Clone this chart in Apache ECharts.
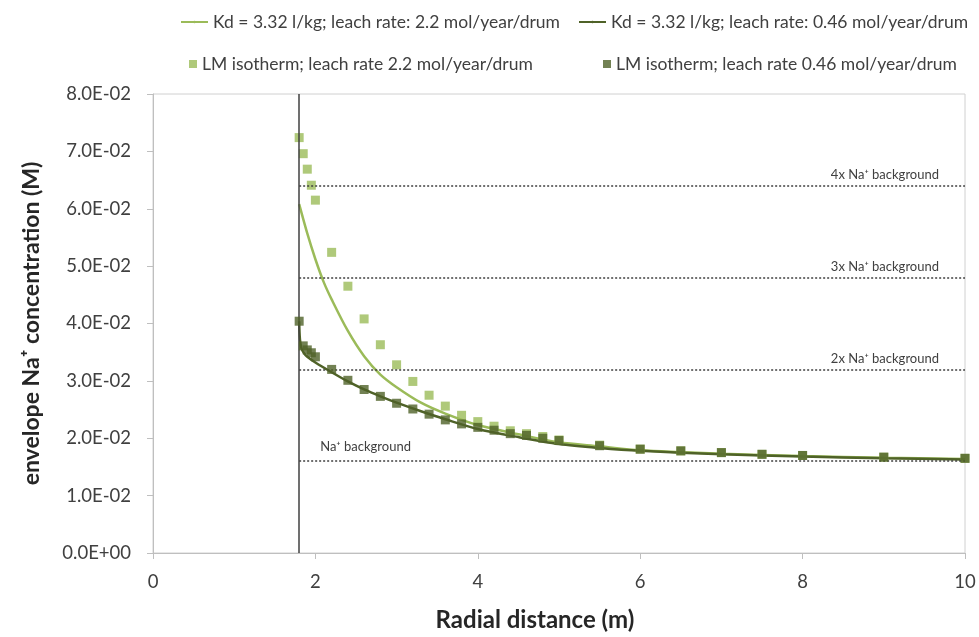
<!DOCTYPE html>
<html>
<head>
<meta charset="utf-8">
<script src="https://cdn.jsdelivr.net/npm/echarts@6/dist/echarts.min.js"></script>
<style>
html,body{margin:0;padding:0;background:#fff;}
#chart{width:979px;height:637px;}
</style>
</head>
<body>
<div id="chart"></div>
<script>
// ---- data ----
const seriesNames = [
  'Kd = 3.32 l/kg; leach rate: 2.2 mol/year/drum',
  'Kd = 3.32 l/kg; leach rate: 0.46 mol/year/drum',
  'LM isotherm; leach rate 2.2 mol/year/drum',
  'LM isotherm; leach rate 0.46 mol/year/drum'
];
const kdHighX = [1.8,1.9,2.0,2.1,2.2,2.4,2.6,2.8,3.0,3.3,3.6,4.0,4.5,5,5.5,6,7,8,9,10];
const kdHighY = [0.0608,0.0557,0.0512,0.0473,0.0442,0.0387,0.0343,0.0311,0.0289,0.0262,0.0243,0.0223,0.0207,0.0193,0.0186,0.0179,0.0173,0.0169,0.0166,0.0164];
const kdLowX = [1.8,1.81,1.83,1.86,1.9,2.0,2.2,2.4,2.6,2.8,3.0,3.3,3.6,4.0,4.5,5,5.5,6,7,8,9,10];
const kdLowY = [0.0404,0.0372,0.0356,0.0348,0.0342,0.0332,0.0315,0.0299,0.0285,0.0273,0.0262,0.0247,0.0233,0.0216,0.0202,0.0190,0.0183,0.0178,0.0172,0.0168,0.0165,0.0163];
const lmX = [1.8,1.85,1.9,1.95,2.0,2.2,2.4,2.6,2.8,3.0,3.2,3.4,3.6,3.8,4.0,4.2,4.4,4.6,4.8,5.0,5.5,6,6.5,7,7.5,8,9,10];
const lmHighY = [0.0724,0.0696,0.0669,0.0641,0.0615,0.0524,0.0465,0.0408,0.0363,0.0328,0.0299,0.0275,0.0256,0.0240,0.0229,0.0221,0.0213,0.0208,0.0203,0.0197,0.0188,0.0181,0.0178,0.0175,0.0172,0.0170,0.0167,0.0165];
const lmLowY = [0.0404,0.0361,0.0354,0.0349,0.0342,0.0320,0.0301,0.0285,0.0273,0.0261,0.0251,0.0242,0.0232,0.0225,0.0219,0.0214,0.0208,0.0205,0.0200,0.0196,0.0187,0.0181,0.0178,0.0175,0.0172,0.0170,0.0167,0.0165];
const drumRadius = 1.8;
const background = 0.016;
const refLevels = [
  {y: 0.064, label: '4x Na\u207A background'},
  {y: 0.048, label: '3x Na\u207A background'},
  {y: 0.032, label: '2x Na\u207A background'}
];
const bgLabel = 'Na\u207A background';
const xMax = 10;

const zip = (xs, ys) => xs.map((x, i) => [x, ys[i]]);
const LIGHT = '#9bbb59', DARK = '#4f6228';
const FONT = 'Lato';

function fmtExp(v) {
  if (v === 0) return '0.0E+00';
  const e = Math.floor(Math.log10(Math.abs(v)) + 1e-9);
  const m = v / Math.pow(10, e);
  const sign = e < 0 ? '-' : '+';
  const ea = Math.abs(e);
  return m.toFixed(1) + 'E' + sign + (ea < 10 ? '0' + ea : ea);
}

const refLineData = refLevels.map(r => [
  {coord: [drumRadius, r.y], label: {show: true, formatter: r.label, position: 'insideEndTop', distance: 4, padding: [0, 22, 0, 0], fontSize: 13, color: '#404040', fontFamily: FONT}},
  {coord: [xMax, r.y]}
]);
refLineData.push([
  {coord: [drumRadius, background], label: {show: true, formatter: bgLabel, position: 'insideStartTop', distance: 8, padding: [0, 0, 0, 13], fontSize: 13, color: '#404040', fontFamily: FONT}},
  {coord: [xMax, background]}
]);

const legendCommon = {
  orient: 'horizontal',
  padding: 0,
  textStyle: {fontFamily: FONT, fontSize: 17.5, color: '#404040'},
  selectedMode: false
};

const option = {
  animation: false,
  backgroundColor: '#fff',
  grid: {left: 153, right: 14, top: 94, bottom: 80, show: true, borderColor: '#d0d0d0', borderWidth: 1, containLabel: false},
  legend: [
    Object.assign({}, legendCommon, {data: [seriesNames[0]], left: 180, top: 13, itemWidth: 27, itemHeight: 3}),
    Object.assign({}, legendCommon, {data: [seriesNames[1]], left: 578, top: 13, itemWidth: 27, itemHeight: 3}),
    Object.assign({}, legendCommon, {data: [{name: seriesNames[2], icon: 'rect'}], left: 189, top: 55, itemWidth: 8, itemHeight: 8}),
    Object.assign({}, legendCommon, {data: [{name: seriesNames[3], icon: 'rect'}], left: 603, top: 55, itemWidth: 8, itemHeight: 8})
  ],
  xAxis: {
    type: 'value', min: 0, max: 10, interval: 2,
    name: 'Radial distance (m)', nameLocation: 'middle', nameGap: 55,
    nameTextStyle: {fontFamily: FONT, fontSize: 24, fontWeight: 'bold', color: '#262626', padding: [0, 48, 0, 0]},
    axisLine: {show: true, onZero: false, lineStyle: {color: '#bfbfbf', width: 1}},
    axisTick: {show: true, length: 6, lineStyle: {color: '#bfbfbf'}},
    axisLabel: {fontFamily: FONT, fontSize: 18.5, color: '#404040', margin: 20},
    splitLine: {show: false}
  },
  yAxis: {
    type: 'value', min: 0, max: 0.08, interval: 0.01,
    name: 'envelope Na\u207A concentration (M)', nameLocation: 'middle', nameGap: 110, nameRotate: 90,
    nameTextStyle: {fontFamily: FONT, fontSize: 23, fontWeight: 'bold', color: '#262626'},
    axisLine: {show: true, lineStyle: {color: '#bfbfbf', width: 1}},
    axisTick: {show: true, length: 6, lineStyle: {color: '#bfbfbf'}},
    axisLabel: {fontFamily: FONT, fontSize: 18.5, color: '#404040', margin: 22, formatter: fmtExp},
    splitLine: {show: false}
  },
  series: [
    {
      name: seriesNames[0], type: 'line', data: zip(kdHighX, kdHighY),
      smooth: 0.3, symbol: 'none', color: LIGHT,
      lineStyle: {color: LIGHT, width: 2.5}, z: 3,
      markLine: {
        silent: true, symbol: 'none', animation: false,
        lineStyle: {color: '#404040', type: [2, 2], width: 1.5},
        data: refLineData.concat([[
          {coord: [drumRadius, 0], lineStyle: {color: '#404040', type: 'solid', width: 1.5}, label: {show: false}},
          {coord: [drumRadius, 0.08]}
        ]])
      }
    },
    {
      name: seriesNames[1], type: 'line', data: zip(kdLowX, kdLowY),
      smooth: 0.3, symbol: 'none', color: DARK,
      lineStyle: {color: DARK, width: 2.5}, z: 3
    },
    {
      name: seriesNames[2], type: 'scatter', data: zip(lmX, lmHighY),
      symbol: 'rect', symbolSize: 9, itemStyle: {color: LIGHT}, z: 4
    },
    {
      name: seriesNames[3], type: 'scatter', data: zip(lmX, lmLowY),
      symbol: 'rect', symbolSize: 9, itemStyle: {color: DARK}, z: 5
    }
  ]
};

const chart = echarts.init(document.getElementById('chart'), null, {renderer: 'canvas'});
chart.setOption(option);
</script>
</body>
</html>
